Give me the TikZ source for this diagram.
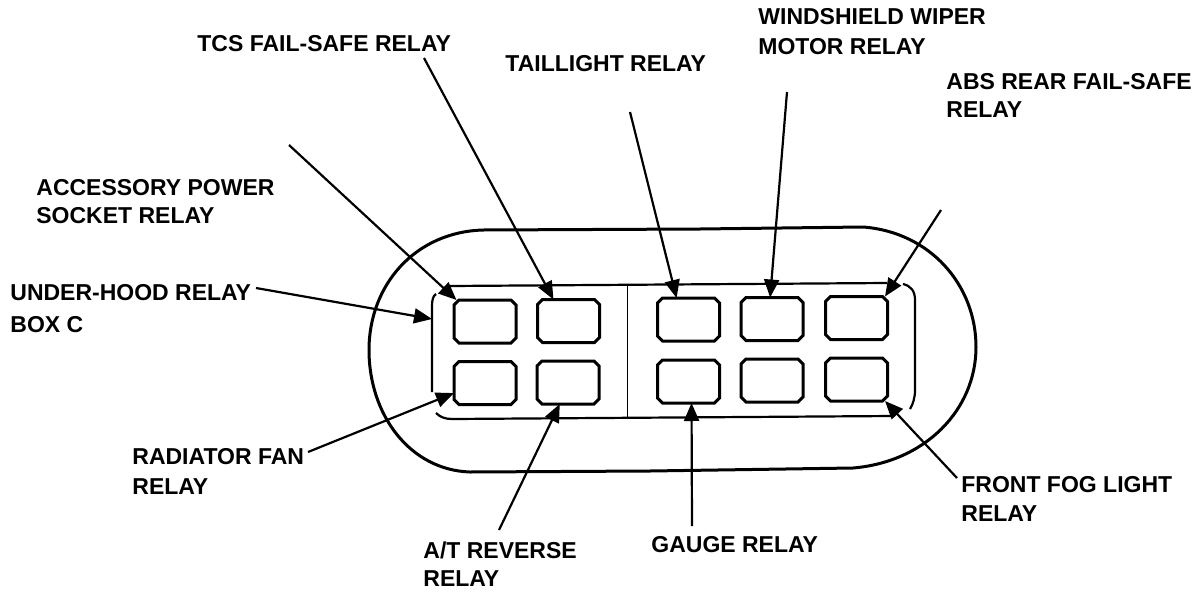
\documentclass[tikz,border=0pt]{standalone}
\usepackage{fontspec}
\setmainfont{Liberation Sans}
\usetikzlibrary{arrows.meta}

\tikzset{
  relaybox/.style={rectangle, minimum width=31pt, minimum height=21.5pt, inner sep=0pt, outer sep=0pt},
  relayline/.style={line width=1.5pt, line join=miter},
  callout/.style={line width=1.1pt, -{Triangle[length=9pt,width=7.5pt]}},
  relaylabel/.style={anchor=north west, align=left, inner sep=0pt, font=\bfseries\fontsize{11.5}{15}\selectfont},
}

\begin{document}
\begin{tikzpicture}[x=0.5pt, y=-0.5pt]
  \useasboundingbox (0,0) rectangle (1200,595);

  % outer housing, slightly out of true as in the drawing
  \draw[line width=1.5pt] (483,230) -- (700,229) -- (863,227)
    .. controls (930,232) and (976,285) .. (976,347)
    .. controls (976,410) and (925,462) .. (853,468)
    -- (650,471) -- (470,472)
    .. controls (410,470) and (369,415) .. (369,350)
    .. controls (369,285) and (415,232) .. (483,230) -- cycle;

  % inner frame, left open where the arrows reach it
  \draw[line width=1.1pt] (450,286) -- (887,283);
  \draw[line width=1.1pt] (903,284) .. controls (911,286) and (915,291) .. (915,300) -- (915,390) .. controls (915,398) and (913,404) .. (910,409);
  \draw[line width=1.1pt] (436,294) .. controls (433,296) and (432,300) .. (432,306) -- (432,392);
  \draw[line width=1.1pt] (436,413) .. controls (440,417) and (445,419) .. (452,419) -- (893,416);
  \draw[line width=0.45pt] (627,286) -- (627,418);

  % the relays, one per socket, with the corners cut off
  \foreach \n/\x/\y in {accessory/485/321.5, tcs/568.5/321, radiator/485/383, reverse/568/382.5,
      taillight/688.5/319.5, wiper/772/319, absrear/856.5/318,
      gauge/688.5/381.5, spare/772/380.5, foglight/856.5/379.5} {
    \node[relaybox] (\n) at (\x,\y) {};
    \draw[relayline] ([xshift=2.5pt]\n.north west) -- ([xshift=-2.5pt]\n.north east)
      -- ([yshift=-2.5pt]\n.north east) -- ([yshift=2.5pt]\n.south east)
      -- ([xshift=-2.5pt]\n.south east) -- ([xshift=2.5pt]\n.south west)
      -- ([yshift=2.5pt]\n.south west) -- ([yshift=-2.5pt]\n.north west) -- cycle;
  }

  % labels
  \node[relaylabel] (tcslabel) at (197,35) {TCS FAIL-SAFE RELAY};
  \node[relaylabel] (taillabel) at (505,55) {TAILLIGHT RELAY};
  \node[relaylabel] (wiperlabel) at (758,8) {WINDSHIELD WIPER\\MOTOR RELAY};
  \node[relaylabel] (abslabel) at (946,73) {ABS REAR FAIL-SAFE\\[-1pt]RELAY};
  \node[relaylabel] (acclabel) at (36,179) {ACCESSORY POWER\\[-1pt]SOCKET RELAY};
  \node[relaylabel] (boxlabel) at (10,284) {UNDER-HOOD RELAY\\[1pt]BOX C};
  \node[relaylabel] (radlabel) at (132,448) {RADIATOR FAN\\RELAY};
  \node[relaylabel] (revlabel) at (423,541) {A/T REVERSE\\[-1pt]RELAY};
  \node[relaylabel] (gaugelabel) at (651,536) {GAUGE RELAY};
  \node[relaylabel] (foglabel) at (961,476) {FRONT FOG LIGHT\\[-0.5pt]RELAY};

  % free ends of the leaders
  \coordinate (accstart) at (289,145);
  \coordinate (tcsstart) at (424,58);
  \coordinate (tailstart) at (630,112);
  \coordinate (wiperstart) at (787,92);
  \coordinate (absstart) at (941,210);
  \coordinate (boxstart) at (256,288);
  \coordinate (boxend) at (432,319);
  \coordinate (radstart) at (308,452);
  \coordinate (revstart) at (499,530);
  \coordinate (gaugestart) at (692,526);
  \coordinate (fogstart) at (957,478);

  \draw[callout] (accstart) -- (accessory.143);
  \draw[callout] (tcsstart) -- (tcs.125);
  \draw[callout] (tailstart) -- (taillight.119);
  \draw[callout] (wiperstart) -- (wiper.95);
  \draw[callout] (absstart) -- (absrear.37);
  \draw[callout] (boxstart) -- (boxend);
  \draw[callout] (radstart) -- (radiator.198);
  \draw[callout] (revstart) -- (reverse.249);
  \draw[callout] (gaugestart) -- (gauge.278);
  \draw[callout] (fogstart) -- (foglight.323);
\end{tikzpicture}
\end{document}
